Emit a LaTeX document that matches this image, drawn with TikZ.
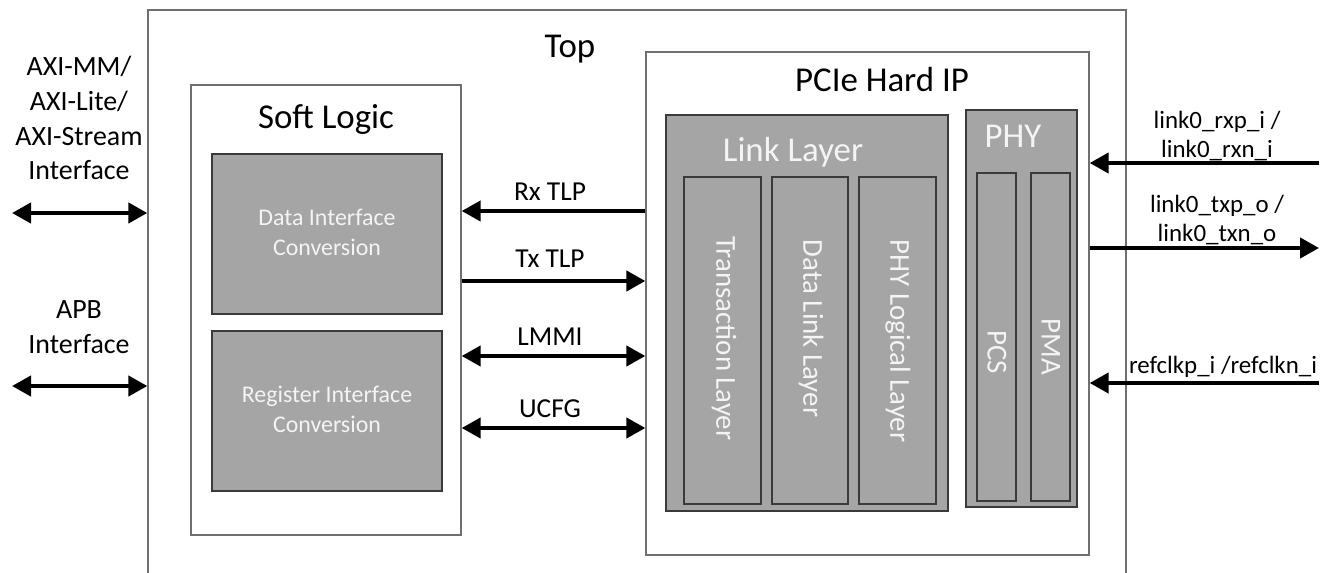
\documentclass[tikz,border=0pt]{standalone}
\usepackage{fontspec}
\setmainfont{Carlito}
\usetikzlibrary{arrows.meta}
\definecolor{boxgray}{HTML}{A5A5A5}
\definecolor{edgegray}{HTML}{3A3A3A}
\definecolor{outl}{HTML}{707070}
\definecolor{txtw}{HTML}{F4F4F4}
\tikzset{
  wbox/.style={draw=outl, line width=1.3pt, fill=white, inner sep=0pt},
  gbox/.style={draw=edgegray, line width=1.1pt, fill=boxgray, inner sep=0pt},
  title/.style={font=\fontsize{35}{42}\selectfont, anchor=base},
  gtitle/.style={title, text=txtw},
  coltxt/.style={text=txtw, font=\fontsize{29}{35}\selectfont, rotate=-90, inner sep=0pt},
  conv/.style={text=txtw, font=\fontsize{24}{30}\selectfont, align=center, inner sep=0pt},
  sidetxt/.style={font=\fontsize{28}{35}\selectfont, align=center, inner sep=0pt},
  sigtxt/.style={font=\fontsize{27.5}{33}\selectfont, anchor=base, inner sep=0pt},
  pintxt/.style={font=\fontsize{25}{29}\selectfont, align=center, inner sep=0pt},
  tip/.tip={Triangle[length=19bp,width=20bp]},
  sig/.style={line width=4.2bp, -tip},
  bisig/.style={line width=4.2bp, tip-tip},
}
\begin{document}
\begin{tikzpicture}[x=1bp, y=-1bp]
\useasboundingbox (0,0) rectangle (1325,573);
% Top
\node[wbox, minimum width=978bp, minimum height=630bp] (top) at (637,325) {};
\node[title] (toplbl) at (570,58) {Top};
% Soft logic
\node[wbox, minimum width=270bp, minimum height=450bp] (soft) at (326,310) {};
\node[title] (softlbl) at (326,129) {Soft Logic};
\node[gbox, minimum width=230bp, minimum height=160bp] (dataif) at (327,234) {};
\node[conv] (dataiflbl) at (327,232) {Data Interface\\Conversion};
\node[gbox, minimum width=230bp, minimum height=160bp] (regif) at (327,411) {};
\node[conv] (regiflbl) at (327,409) {Register Interface\\Conversion};
% PCIe Hard IP
\node[wbox, minimum width=443bp, minimum height=503bp] (pcie) at (867.5,303.5) {};
\node[title] (pcielbl) at (882,92) {PCIe Hard IP};
\node[gbox, minimum width=282bp, minimum height=396bp] (link) at (807,313) {};
\node[gtitle] (linklbl) at (793,162) {Link Layer};
\node[gbox, minimum width=77bp, minimum height=327bp] (trans) at (722.5,340.5) {};
\node[gbox, minimum width=76bp, minimum height=327bp] (dll) at (810,340.5) {};
\node[gbox, minimum width=77bp, minimum height=327bp] (phylog) at (897.5,340.5) {};
\node[coltxt] (translbl) at (724,338.5) {Transaction Layer};
\node[coltxt] (dlllbl) at (811,328.5) {Data Link Layer};
\node[coltxt] (phyloglbl) at (898,341) {PHY Logical Layer};
\node[gbox, minimum width=111bp, minimum height=397bp] (phy) at (1021.5,308.5) {};
\node[gtitle] (phylbl) at (1013,148) {PHY};
\node[gbox, minimum width=39bp, minimum height=328bp] (pcs) at (996.5,337) {};
\node[gbox, minimum width=39bp, minimum height=328bp] (pma) at (1050.5,337) {};
\node[coltxt] (pcslbl) at (997,352) {PCS};
\node[coltxt] (pmalbl) at (1051,347) {PMA};
% left side interfaces
\node[sidetxt] (axilbl) at (79,118) {AXI-MM/\\AXI-Lite/\\AXI-Stream\\Interface};
\node[sidetxt] (apblbl) at (79,327) {APB\\Interface};
\coordinate (axiL) at (12,213);
\coordinate (apbL) at (12,386);
\draw[bisig] (axiL) -- (top.west |- axiL);
\draw[bisig] (apbL) -- (top.west |- apbL);
% internal signals
\draw[sig] (pcie.west |- 0,211) -- (soft.east |- 0,211);
\draw[sig] (soft.east |- 0,281) -- (pcie.west |- 0,281);
\draw[bisig] (soft.east |- 0,356) -- (pcie.west |- 0,356);
\draw[bisig] (soft.east |- 0,428) -- (pcie.west |- 0,428);
\node[sigtxt] (rxlbl) at (550,200) {Rx TLP};
\node[sigtxt] (txlbl) at (550,267) {Tx TLP};
\node[sigtxt] (lmmilbl) at (550,345) {LMMI};
\node[sigtxt] (ucfglbl) at (550,417) {UCFG};
% right side pins
\coordinate (rxin) at (1319,163);
\coordinate (txout) at (1319,248);
\coordinate (clkin) at (1319,383);
\draw[sig] (rxin) -- (pcie.east |- rxin);
\draw[sig] (pcie.east |- txout) -- (txout);
\draw[sig] (clkin) -- (pcie.east |- clkin);
\node[pintxt] (rxpins) at (1217,136) {link0\_rxp\_i /\\link0\_rxn\_i};
\node[pintxt] (txpins) at (1217,220) {link0\_txp\_o /\\link0\_txn\_o};
\node[pintxt, anchor=base] (clkpins) at (1223,373) {refclkp\_i /refclkn\_i};
\end{tikzpicture}
\end{document}
